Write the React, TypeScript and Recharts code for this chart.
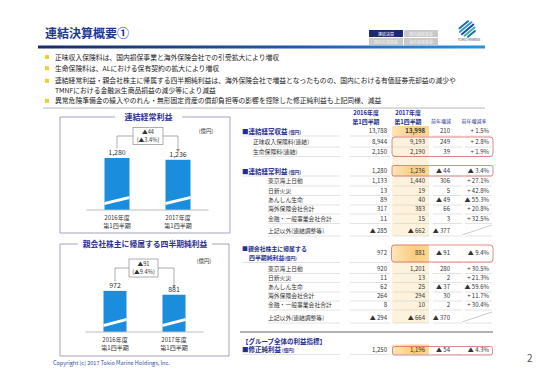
import React from "react";
import { BarChart, Bar, XAxis, YAxis, LabelList } from "recharts";

// ---- chart data ----
const periodYears = ["2016年度", "2017年度"];
const periodQuarters = ["第1四半期", "第1四半期"];
const ordinaryProfit = [1280, 1236];
const netIncome = [972, 881];

// ---- table data ----
const rowLabels = [
  "■連結経常収益", "正味収入保険料(連結)", "生命保険料(連結)",
  "■連結経常利益", "東京海上日動", "日新火災", "あんしん生命", "海外保険会社合計", "金融・一般事業会社合計", "上記以外(連結調整等)",
  "■親会社株主に帰属する|四半期純利益", "東京海上日動", "日新火災", "あんしん生命", "海外保険会社合計", "金融・一般事業会社合計", "上記以外(連結調整等)",
  "■修正純利益",
];
const fy2016 = ["13,788", "8,944", "2,150", "1,280", "1,133", "13", "89", "317", "11", "▲ 285", "972", "920", "11", "62", "264", "8", "▲ 294", "1,250"];
const fy2017 = ["13,998", "9,193", "2,190", "1,236", "1,440", "19", "40", "383", "15", "▲ 662", "881", "1,201", "13", "25", "294", "10", "▲ 664", "1,196"];
const yoyDiff = ["210", "249", "39", "▲ 44", "306", "5", "▲ 49", "66", "3", "▲ 377", "▲ 91", "280", "2", "▲ 37", "30", "2", "▲ 370", "▲ 54"];
const yoyRate = ["+ 1.5%", "+ 2.8%", "+ 1.9%", "▲ 3.4%", "+ 27.1%", "+ 42.8%", "▲ 55.3%", "+ 20.8%", "+ 32.5%", "", "▲ 9.4%", "+ 30.5%", "+ 21.3%", "▲ 59.6%", "+ 11.7%", "+ 30.4%", "", "▲ 4.3%"];
const bullets = [
  "正味収入保険料は、国内損保事業と海外保険会社での引受拡大により増収",
  "生命保険料は、ALにおける保有契約の拡大により増収",
  "連結経常利益・親会社株主に帰属する四半期純利益は、海外保険会社で増益となったものの、国内における有価証券売却益の減少や|TMNFにおける金融派生商品損益の減少等により減益",
  "異常危険準備金の繰入やのれん・無形固定資産の償却負担等の影響を控除した修正純利益も上記同様、減益",
];

// ---- layout (not data) ----
const rowY = [131, 142, 151.5, 171, 181, 190.5, 200, 209, 218.5, 231, 253, 268.5, 277.5, 287, 296, 305, 318, 349.5];
const rowKind = ["main", "s1", "s1", "main", "s2", "s2", "s2", "s2", "s2", "s2", "main2", "s2", "s2", "s2", "s2", "s2", "s2", "main"];

const FONT = "'Noto Sans CJK JP', 'Noto Sans', sans-serif";
const BLUE = "#1f2f8f";
const BAR = "#1a8ddc";

const chart1 = periodYears.map((y, i) => ({ name: y, q: periodQuarters[i], value: ordinaryProfit[i] }));
const chart2 = periodYears.map((y, i) => ({ name: y, q: periodQuarters[i], value: netIncome[i] }));

// y = vertical centre of the text line
const T = ({ x, y, size = 6, color = "#333", weight = 400, align = "left", w = 200, children }: any) => {
  let left = x;
  if (align === "right") left = x - w;
  if (align === "center") left = x - w / 2;
  return (
    <div style={{ position: "absolute", left, top: y - size / 2, width: w, height: size, lineHeight: `${size}px`, fontSize: size, color, fontWeight: weight, textAlign: align, whiteSpace: "nowrap" }}>
      {children}
    </div>
  );
};

const BreakBar = (props: any) => {
  const { x, y, width, height } = props;
  const b = y + height;
  return (
    <g>
      <rect x={x} y={y} width={width} height={height} fill={BAR} />
      <polygon points={`${x},${b - 5} ${x + width},${b - 11} ${x + width},${b - 14} ${x},${b - 8}`} fill="#fff" />
    </g>
  );
};

const Tick = (props: any) => {
  const { x, y, payload, index } = props;
  return (
    <text x={x} y={y} textAnchor="middle" fontSize={6} fill="#333" fontFamily={FONT}>
      <tspan x={x} dy={9.5}>{payload.value}</tspan>
      <tspan x={x} dy={8}>{periodQuarters[index]}</tspan>
    </text>
  );
};

const fmt = (v: any) => Number(v).toLocaleString("en-US");

function MiniChart({ data, domainMax, barSize, left, top, width, height, mx }: any) {
  return (
    <div style={{ position: "absolute", left, top }}>
      <BarChart width={width} height={height} data={data} margin={{ top: 5, right: mx, left: mx, bottom: 0 }}>
        <XAxis dataKey="name" axisLine={{ stroke: "#bdbdbd" }} tickLine={false} tickSize={0} tickMargin={0} height={22} interval={0} tick={<Tick />} />
        <YAxis hide domain={[0, domainMax]} />
        <Bar dataKey="value" barSize={barSize} shape={<BreakBar />} isAnimationActive={false}>
          <LabelList dataKey="value" position="top" offset={3} formatter={fmt} style={{ fontSize: 7, fill: "#333", fontFamily: FONT }} />
        </Bar>
      </BarChart>
    </div>
  );
}

function Logo() {
  return (
    <svg style={{ position: "absolute", left: 455, top: 20 }} width={28} height={22}>
      <g transform="rotate(-40 13 9)">
        <rect x={6} y={2} width={13} height={2} rx={1} fill="#1c6fb8" />
        <rect x={4} y={5} width={17} height={2} rx={1} fill="#2a9bd6" />
        <rect x={4} y={8} width={17} height={2} rx={1} fill="#1a4f9c" />
        <rect x={5} y={11} width={15} height={2} rx={1} fill="#3bb0a8" />
        <rect x={7} y={14} width={11} height={2} rx={1} fill="#1c6fb8" />
      </g>
      <text x={14} y={21} fontSize={3.3} textAnchor="middle" fill="#445" fontFamily={FONT}>TOKIO MARINE</text>
    </svg>
  );
}

export default function App() {
  const c1 = 387, c2 = 425, c3 = 450, c4 = 489;
  const b3 = bullets[2].split("|");
  const m2 = rowLabels[10].split("|");
  return (
    <div style={{ position: "fixed", left: 0, top: 0, width: 550, height: 388, background: "#fff", overflow: "hidden", fontFamily: FONT }}>
      {/* background graphics */}
      <svg style={{ position: "absolute", left: 0, top: 0 }} width={550} height={388}>
        <defs>
          <linearGradient id="band" x1="0" x2="1" y1="0" y2="0">
            <stop offset="0" stopColor="#1b2a6b" />
            <stop offset="0.55" stopColor="#1f58a8" />
            <stop offset="1" stopColor="#2d93dc" />
          </linearGradient>
          <linearGradient id="hl" x1="0" x2="1" y1="0" y2="0">
            <stop offset="0" stopColor="#fde6b8" />
            <stop offset="0.6" stopColor="#f9cd7e" />
            <stop offset="1" stopColor="#fbd896" />
          </linearGradient>
        </defs>
        <rect x={38} y={45.5} width={447} height={3} fill="url(#band)" />
        <rect x={43} y={107.5} width={442} height={1.2} fill="#c4c4c4" />
        {/* tabs */}
        <rect x={369} y={30} width={34} height={7} fill="#1d2b6e" />
        <rect x={404} y={30} width={34} height={7} fill="#c9c9c9" />
        <rect x={369} y={38} width={34} height={7} fill="#c9c9c9" />
        <rect x={404} y={38} width={34} height={7} fill="#c9c9c9" />
        {/* left boxes */}
        <path d="M115 117 H60 V233 H230 V117 H182" fill="none" stroke="#a3a3c6" strokeWidth={1} />
        <path d="M78 244 H60 V356 H229 V244 H212" fill="none" stroke="#a3a3c6" strokeWidth={1} />
        {/* annotations */}
        <rect x={133} y={127.5} width={30} height={17} fill="#fff" stroke="#8a8a8a" strokeWidth={0.7} />
        <polyline points="133,136 117,136 117,148.5" fill="none" stroke="#8a8a8a" strokeWidth={0.7} />
        <polyline points="163,136 178,136 178,150" fill="none" stroke="#8a8a8a" strokeWidth={0.7} />
        <polygon points="176,149 180,149 178,152" fill="#8a8a8a" />
        <rect x={129} y={259} width={29} height={18} fill="#fff" stroke="#8a8a8a" strokeWidth={0.7} />
        <polyline points="129,268 115,268 115,281.5" fill="none" stroke="#8a8a8a" strokeWidth={0.7} />
        <polyline points="158,268 174,268 174,286" fill="none" stroke="#8a8a8a" strokeWidth={0.7} />
        <polygon points="172,285 176,285 174,288" fill="#8a8a8a" />
        {/* table highlights */}
        <rect x={392} y={126} width={37} height={110} fill="#fdf2db" />
        <rect x={392} y={244} width={37} height={79} fill="#fdf2db" />
        {rowKind.map((k, i) =>
          k === "main" || k === "main2" ? (
            <rect key={"h" + i} x={392} y={k === "main2" ? 245 : rowY[i] - 5} width={37} height={k === "main2" ? 17 : 10} fill="url(#hl)" />
          ) : null
        )}
        {/* row lines */}
        {rowKind.map((k, i) => {
          const ly = k === "main2" ? 262.5 : rowY[i] + 5;
          const lx = k === "s1" ? 253 : k === "s2" ? 268 : 242;
          return (
            <g key={"l" + i} stroke="#d0d0d0" strokeWidth={0.6}>
              <line x1={lx} x2={340} y1={ly} y2={ly} />
              <line x1={350} x2={390} y1={ly} y2={ly} />
              <line x1={393} x2={429} y1={ly} y2={ly} />
              <line x1={433} x2={462} y1={ly} y2={ly} />
              <line x1={465} x2={492} y1={ly} y2={ly} />
            </g>
          );
        })}
        <line x1={462} y1={235} x2={492} y2={225} stroke="#aaa" strokeWidth={0.6} />
        <line x1={462} y1={322} x2={492} y2={312} stroke="#aaa" strokeWidth={0.6} />
        <line x1={240} x2={493} y1={332} y2={332} stroke="#666" strokeWidth={1.2} />
        {/* red boxes */}
        <rect x={392} y={137} width={101} height={19.5} rx={3} fill="none" stroke="#e06a6a" strokeWidth={0.8} />
        <rect x={392} y={165.5} width={101} height={10.5} rx={2} fill="none" stroke="#e06a6a" strokeWidth={0.8} />
        <rect x={391.5} y={245} width={101.5} height={17} rx={3} fill="none" stroke="#e06a6a" strokeWidth={0.8} />
        <rect x={392.5} y={346.5} width={100} height={8.5} rx={2} fill="none" stroke="#e06a6a" strokeWidth={0.8} />
        {/* bullets */}
        {[57, 68.3, 80.8, 100.8].map((y, i) => (
          <rect key={"b" + i} x={45} y={y - 2} width={4} height={4} fill="#f2cf2a" />
        ))}
      </svg>

      {/* header */}
      <T x={45} y={33} size={12} color="#1e3a8e" weight={700}>連結決算概要①</T>
      <T x={386} y={33.5} size={4} color="#fff" align="center" w={34}>連結決算</T>
      <T x={421} y={33.5} size={4} color="#f2f2f2" align="center" w={34}>国内損保事業</T>
      <T x={386} y={41.5} size={4} color="#f2f2f2" align="center" w={34}>国内生保事業</T>
      <T x={421} y={41.5} size={4} color="#f2f2f2" align="center" w={34}>海外保険事業</T>
      <Logo />

      {/* bullets text */}
      <T x={55} y={57} size={6.8} color="#1a1a1a" w={440}>{bullets[0]}</T>
      <T x={55} y={68.3} size={6.8} color="#1a1a1a" w={440}>{bullets[1]}</T>
      <T x={55} y={80.8} size={6.8} color="#1a1a1a" w={440}>{b3[0]}</T>
      <T x={55} y={90.7} size={6.8} color="#1a1a1a" w={440}>{b3[1]}</T>
      <T x={55} y={100.8} size={6.8} color="#1a1a1a" w={440}>{bullets[3]}</T>

      {/* left charts */}
      <T x={148.5} y={117} size={8} color="#2e3192" weight={700} align="center" w={70}>連結経常利益</T>
      <T x={145} y={244} size={7.8} color="#2e3192" weight={700} align="center" w={134}>親会社株主に帰属する四半期純利益</T>
      <T x={206} y={132} size={5.5} color="#333" align="center" w={30}>(億円)</T>
      <T x={204} y={261.5} size={5.5} color="#333" align="center" w={30}>(億円)</T>
      <T x={148} y={131.8} size={5.7} color="#333" align="center" w={30}>▲44</T>
      <T x={148} y={140.3} size={5.7} color="#333" align="center" w={30}>(▲3.4%)</T>
      <T x={143.5} y={263.8} size={5.7} color="#333" align="center" w={30}>▲91</T>
      <T x={143.5} y={272.3} size={5.7} color="#333" align="center" w={30}>(▲9.4%)</T>

      <MiniChart data={chart1} domainMax={1600} barSize={25} left={80} top={140} width={135} height={92} mx={6.5} />
      <MiniChart data={chart2} domainMax={1300} barSize={23} left={80} top={272} width={129} height={82} mx={5.5} />

      <T x={53} y={364} size={5.5} color="#2a4fa0" w={150}>Copyright (c) 2017 Tokio Marine Holdings, Inc.</T>

      {/* table headers */}
      <T x={366} y={113.3} size={5.9} color={BLUE} weight={700} align="center" w={40}>2016年度</T>
      <T x={366} y={122} size={5.9} color={BLUE} weight={700} align="center" w={40}>第1四半期</T>
      <T x={408} y={113.3} size={5.9} color={BLUE} weight={700} align="center" w={40}>2017年度</T>
      <T x={408} y={122} size={5.9} color={BLUE} weight={700} align="center" w={40}>第1四半期</T>
      <T x={441} y={120} size={5} color={BLUE} align="center" w={40}>前年増減</T>
      <T x={474} y={120} size={5} color={BLUE} align="center" w={40}>前年増減率</T>

      {rowLabels.map((lab, i) => {
        const k = rowKind[i];
        const y = rowY[i];
        const label =
          k === "main" ? (
            <T x={242} y={y} size={6.5} color={BLUE} weight={700} w={120}>
              {lab}<span style={{ fontSize: 4.5 }}> (億円)</span>
            </T>
          ) : k === "main2" ? (
            <>
              <T x={242} y={249} size={5.9} color={BLUE} weight={700} w={120}>{m2[0]}</T>
              <T x={249} y={257.7} size={5.9} color={BLUE} weight={700} w={120}>{m2[1]}<span style={{ fontSize: 4.5 }}>(億円)</span></T>
            </>
          ) : (
            <T x={k === "s1" ? 253 : 268} y={y} size={5.8} color="#333" w={100}>{lab}</T>
          );
        return (
          <React.Fragment key={"r" + i}>
            {label}
            <T x={c1} y={y} size={6} align="right" w={50}>{fy2016[i]}</T>
            <T x={c2} y={y} size={6} align="right" w={50} weight={i === 0 ? 700 : 400}>{fy2017[i]}</T>
            <T x={c3} y={y} size={6} align="right" w={40}>{yoyDiff[i]}</T>
            <T x={c4} y={y} size={6} align="right" w={40}>{yoyRate[i]}</T>
          </React.Fragment>
        );
      })}
      <T x={242} y={341} size={6.5} color={BLUE} weight={700} w={120}>【グループ全体の利益指標】</T>

      <T x={527} y={358} size={10} color="#555" w={20}>2</T>
    </div>
  );
}
